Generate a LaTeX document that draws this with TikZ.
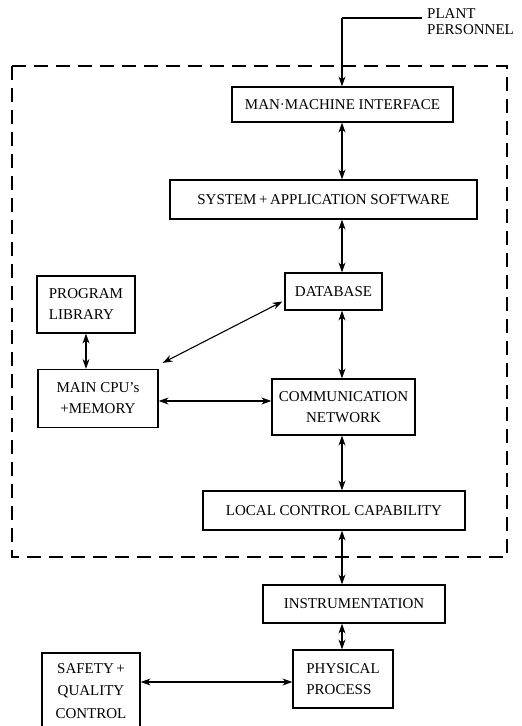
\documentclass[tikz,border=0pt]{standalone}
\usepackage{fontspec}
\setmainfont{Liberation Serif}
\usetikzlibrary{arrows.meta,calc}
\begin{document}
\begin{tikzpicture}[x=1pt,y=-1pt,
  txt/.style={font=\fontsize{15}{21}\selectfont},
  blk/.style={draw,line width=1.2pt,inner sep=0pt,txt},
  con/.style={line width=1.1pt,{Stealth[length=10pt,width=7pt]}-{Stealth[length=10pt,width=7pt]}},
  one/.style={line width=1.1pt,-{Stealth[length=10pt,width=7pt]}}]
\useasboundingbox (0,0) rectangle (522,726);
\draw[line width=1.1pt,dash pattern=on 14pt off 8pt] (12,66) rectangle (507,557);
\coordinate (spine) at (342,0);
\node[blk,minimum width=221pt,minimum height=35pt] (mmi) at (342.5,104.5) {MAN·MACHINE INTERFACE};
\node[blk,minimum width=307pt,minimum height=39pt] (sys) at (323.5,199.5) {SYSTEM\,+\,APPLICATION SOFTWARE};
\node[blk,minimum width=97pt,minimum height=37pt] (db) at (333.5,291.5) {DATABASE};
\node[blk,minimum width=143pt,minimum height=56pt,align=center] (comm) at (343.5,407) {COMMUNICATION\\NETWORK};
\node[blk,minimum width=98pt,minimum height=57pt,align=left] (prog) at (86,304.5) {PROGRAM\\LIBRARY};
\node[blk,minimum width=120pt,minimum height=58pt,align=center] (cpu) at (98,398.5) {MAIN CPU's\\+MEMORY};
\node[blk,minimum width=262pt,minimum height=39pt] (local) at (334,510.5) {LOCAL CONTROL CAPABILITY};
\node[blk,minimum width=182pt,minimum height=38pt] (instr) at (354,604) {INSTRUMENTATION};
\node[blk,minimum width=100pt,minimum height=58pt,align=left] (phys) at (343,679) {PHYSICAL\\PROCESS};
\node[blk,minimum width=98pt,minimum height=76pt,align=center,font=\fontsize{15}{22.5}\selectfont] (safety) at (91,691) {SAFETY\,+\\QUALITY\\CONTROL};
\node[font=\fontsize{15}{16}\selectfont,align=left,anchor=north west,inner sep=0pt] (plant) at (427,8) {PLANT\\PERSONNEL};
\coordinate (pin) at (422,18);
\draw[line width=1.1pt] (pin) -- (pin -| spine);
\draw[one] (pin -| spine) -- (mmi.north -| spine);
\draw[con] (mmi.south -| spine) -- (sys.north -| spine);
\draw[con] (sys.south -| spine) -- (db.north -| spine);
\draw[con] (db.south -| spine) -- (comm.north -| spine);
\draw[con] (comm.south -| spine) -- (local.north -| spine);
\draw[con] (local.south -| spine) -- (instr.north -| spine);
\draw[con] (instr.south -| spine) -- (phys.north -| spine);
\draw[con] (prog.south) coordinate (ps) -- (cpu.north -| ps);
\draw[con] ($(cpu.north east)+(4,-6)$) -- ($(db.west)+(-2,10)$);
\draw[con] (cpu.east |- 0,401) -- (comm.west |- 0,401);
\draw[con] (safety.east |- 0,682) -- (phys.west |- 0,682);
\end{tikzpicture}
\end{document}
